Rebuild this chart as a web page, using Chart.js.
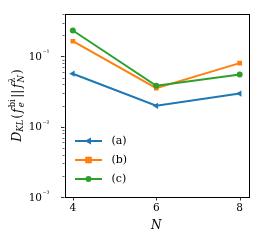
<!DOCTYPE html>
<html><head><meta charset="utf-8">
<script src="https://cdn.jsdelivr.net/npm/chart.js@4"></script>
<style>html,body{margin:0;padding:0;background:#fff}#w{width:263px;height:244px}</style>
</head><body><div id="w"><canvas id="c" width="263" height="244"></canvas></div>
<script>
const categories = [4, 6, 8];
const seriesNames = ['(a)', '(b)', '(c)'];
const seriesA = [0.0566, 0.0198, 0.0296];
const seriesB = [0.164, 0.0353, 0.080];
const seriesC = [0.233, 0.0381, 0.0553];
const xTickValues = [4, 6, 8];
const yTickValues = [0.001, 0.01, 0.1];
const yTickLabels = ['10⁻³', '10⁻²', '10⁻¹'];

const FONT = '"DejaVu Serif", serif';
const colors = ['#1f77b4', '#ff7f0e', '#2ca02c'];
const styles = [
  {pointStyle: 'triangle', rotation: -90, radius: 3.6},
  {pointStyle: 'rect', rotation: 0, radius: 3.3},
  {pointStyle: 'circle', rotation: 0, radius: 3}
];
const allSeries = [seriesA, seriesB, seriesC];

const datasets = allSeries.map((s, i) => ({
  label: seriesNames[i],
  data: categories.map((x, j) => ({x: x, y: s[j]})),
  borderColor: colors[i], backgroundColor: colors[i],
  borderWidth: 2, pointStyle: styles[i].pointStyle, pointRotation: styles[i].rotation,
  pointRadius: styles[i].radius, pointBorderWidth: 0, pointBackgroundColor: colors[i],
  order: 2 - i, tension: 0
}));

function drawPointManual(ctx, st, color, x, y) {
  ctx.save(); ctx.fillStyle = color; ctx.translate(x, y);
  const r = st.radius;
  if (st.pointStyle === 'circle') { ctx.beginPath(); ctx.arc(0,0,r,0,Math.PI*2); ctx.fill(); }
  else if (st.pointStyle === 'rect') { ctx.fillRect(-r,-r,2*r,2*r); }
  else { ctx.beginPath(); ctx.moveTo(-r*1.1,0); ctx.lineTo(r*0.7,-r); ctx.lineTo(r*0.7,r); ctx.closePath(); ctx.fill(); }
  ctx.restore();
}

const overlay = {
  id: 'overlay',
  afterDraw(chart) {
    const ctx = chart.ctx, a = chart.chartArea;
    const xs = chart.scales.x, ys = chart.scales.y;
    ctx.save();
    ctx.strokeStyle = '#000'; ctx.lineWidth = 1;
    ctx.strokeRect(Math.round(a.left)+0.5, Math.round(a.top)+0.5, Math.round(a.right-a.left), Math.round(a.bottom-a.top));
    const lo = Math.log10(ys.min), hi = Math.log10(ys.max);
    for (let e = Math.floor(lo); e <= Math.ceil(hi); e++) {
      for (let m = 1; m <= 9; m++) {
        const v = m * Math.pow(10, e);
        if (v < ys.min*0.999 || v > ys.max*1.001) continue;
        const py = Math.round(ys.getPixelForValue(v)) + 0.5;
        const len = m === 1 ? 3.5 : 2;
        ctx.lineWidth = m === 1 ? 0.8 : 0.6;
        ctx.beginPath(); ctx.moveTo(a.left - len, py); ctx.lineTo(a.left, py); ctx.stroke();
      }
    }
    ctx.lineWidth = 0.8;
    xTickValues.forEach(v => {
      const px = Math.round(xs.getPixelForValue(v)) + 0.5;
      ctx.beginPath(); ctx.moveTo(px, a.bottom); ctx.lineTo(px, a.bottom + 3.5); ctx.stroke();
    });
    ctx.fillStyle = '#000'; ctx.textBaseline = 'middle';
    yTickValues.forEach((v, i) => {
      const py = ys.getPixelForValue(v);
      const base = '10', exp = yTickLabels[i].slice(2);
      ctx.font = '10.5px ' + FONT;
      const wb = ctx.measureText(base).width;
      ctx.font = '7.5px ' + FONT;
      const we = ctx.measureText(exp).width;
      const right = a.left - 15;
      ctx.font = '10.5px ' + FONT; ctx.textAlign = 'left';
      ctx.fillText(base, right - we - wb - 0.5, py + 1);
      ctx.font = '7.5px ' + FONT;
      ctx.fillText(exp, right - we, py - 3);
    });
    ctx.font = '10.5px ' + FONT; ctx.textAlign = 'center'; ctx.textBaseline = 'top';
    xTickValues.forEach(v => ctx.fillText(String(v), xs.getPixelForValue(v), a.bottom + 6));
    ctx.font = 'italic 12px ' + FONT; ctx.textBaseline = 'middle';
    ctx.fillText('N', (a.left + a.right) / 2, 226);
    const segs = [
      {t:'D', f:'italic 12.5px', dy:0, sp:0},
      {t:'KL', f:'italic 8.5px', dy:3, sp:1},
      {t:'(', f:'12px', dy:0, sp:1},
      {t:'f', f:'italic 12.5px', dy:0, sp:1},
      {t:'bi', f:'8.5px', dy:-5, stack:'e', sp:1.5},
      {t:'||', f:'12px', dy:0, sp:1.5},
      {t:'f', f:'italic 12.5px', dy:0, sp:1},
      {t:'λ', f:'italic 8.5px', dy:-5, stack:'N', sp:1},
      {t:')', f:'12px', dy:0, sp:0}
    ];
    let total = 0;
    segs.forEach(s => {
      ctx.font = s.f + ' ' + FONT; s.w = ctx.measureText(s.t).width;
      if (s.stack) { ctx.font = 'italic 8.5px ' + FONT; s.w = Math.max(s.w, ctx.measureText(s.stack).width); }
      total += s.w + s.sp;
    });
    ctx.save();
    ctx.translate(17.5, (a.top + a.bottom) / 2);
    ctx.rotate(-Math.PI / 2);
    ctx.textAlign = 'left'; ctx.textBaseline = 'middle';
    let cx = -total / 2;
    segs.forEach(s => {
      ctx.font = s.f + ' ' + FONT;
      ctx.fillText(s.t, cx, s.dy);
      if (s.stack) { ctx.font = 'italic 8.5px ' + FONT; ctx.fillText(s.stack, cx, 4); }
      cx += s.w + s.sp;
    });
    ctx.restore();
    const rows = [141, 160, 179];
    rows.forEach((ry, i) => {
      ctx.strokeStyle = colors[i]; ctx.lineWidth = 2;
      ctx.beginPath(); ctx.moveTo(75, ry); ctx.lineTo(102, ry); ctx.stroke();
      drawPointManual(ctx, styles[i], colors[i], 88.5, ry);
      ctx.fillStyle = '#000'; ctx.font = '11px ' + FONT; ctx.textAlign = 'left'; ctx.textBaseline = 'middle';
      ctx.fillText(seriesNames[i], 111.5, ry);
    });
    ctx.restore();
  }
};

new Chart(document.getElementById('c'), {
  type: 'line',
  data: {datasets},
  options: {
    responsive: false, animation: false, devicePixelRatio: 1,
    layout: {padding: {left: 0, right: 15, top: 14, bottom: 0}},
    plugins: {legend: {display: false}, tooltip: {enabled: false}},
    scales: {
      x: {type: 'linear', min: 3.8, max: 8.2,
          afterBuildTicks: s => { s.ticks = xTickValues.map(v => ({value: v})); },
          afterFit: s => { s.height = 47; },
          grid: {display: false, drawTicks: false}, border: {display: false},
          ticks: {display: false}},
      y: {type: 'logarithmic', min: 0.001, max: 0.4,
          afterBuildTicks: s => { s.ticks = yTickValues.map(v => ({value: v})); },
          afterFit: s => { s.width = 64.5; },
          grid: {display: false, drawTicks: false}, border: {display: false},
          ticks: {display: false}}
    }
  },
  plugins: [overlay]
});
</script></body></html>
